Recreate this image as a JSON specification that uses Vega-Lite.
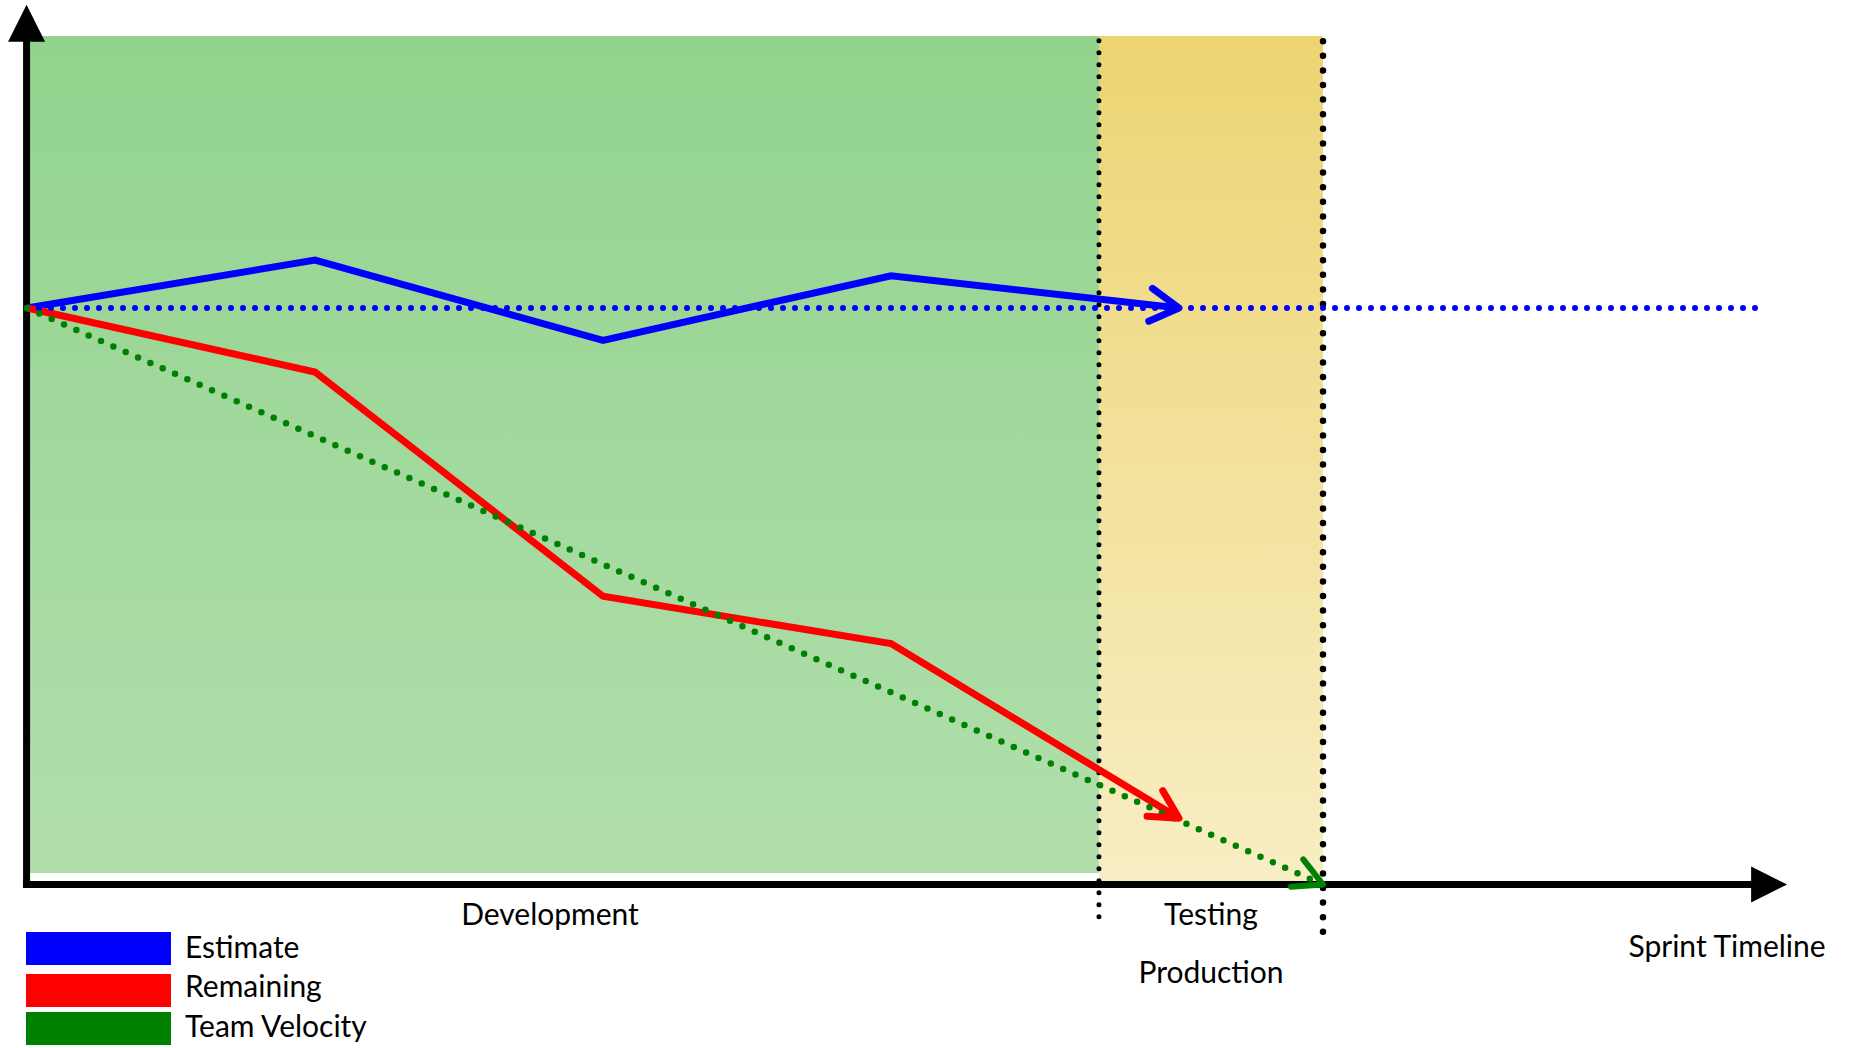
{
  "$schema": "https://vega.github.io/schema/vega-lite/v6.json",
  "width": 1850,
  "height": 1048,
  "autosize": "none",
  "padding": 0,
  "background": "white",
  "config": {"view": {"stroke": null}},
  "datasets": {
    "phases": [
      {"phase": "Development", "start": 0.01, "end": 3.722, "bottom": 1.99, "top": 147.2},
      {"phase": "Testing", "start": 3.722, "end": 4.5, "bottom": 0.4, "top": 147.2}
    ],
    "boundaries": [
      {"boundary": "Testing start", "sprint": 3.722, "low": -5.6, "high": 147.2},
      {"boundary": "Production", "sprint": 4.5, "low": -8.2, "high": 147.2}
    ],
    "burndown": [
      {"series": "Estimate", "sprint": 0, "points": 100},
      {"series": "Estimate", "sprint": 1, "points": 108.3},
      {"series": "Estimate", "sprint": 2, "points": 94.4},
      {"series": "Estimate", "sprint": 3, "points": 105.6},
      {"series": "Estimate", "sprint": 4, "points": 100},
      {"series": "Remaining", "sprint": 0, "points": 100},
      {"series": "Remaining", "sprint": 1, "points": 88.9},
      {"series": "Remaining", "sprint": 2, "points": 50.0},
      {"series": "Remaining", "sprint": 3, "points": 41.8},
      {"series": "Remaining", "sprint": 4, "points": 11.5},
      {"series": "Team Velocity", "sprint": 0, "points": 100},
      {"series": "Team Velocity", "sprint": 4.5, "points": 0}
    ],
    "baseline": [
      {"series": "Estimate", "sprint": 0, "points": 100},
      {"series": "Estimate", "sprint": 6.01, "points": 100}
    ],
    "axes": [
      {"axis": "y", "x0": -0.0015, "x1": -0.0015, "y0": -0.6, "y1": 146.5},
      {"axis": "x", "x0": -0.014, "x1": 6.0, "y0": 0, "y1": 0}
    ],
    "axisHeads": [
      {"axis": "y", "sprint": -0.0015, "points": 149.4},
      {"axis": "x", "sprint": 6.049, "points": 0}
    ],
    "labels": [
      {"text": "Development", "sprint": 1.816, "points": -7.03},
      {"text": "Testing", "sprint": 4.111, "points": -7.03},
      {"text": "Production", "sprint": 4.111, "points": -17.09},
      {"text": "Sprint Timeline", "sprint": 5.903, "points": -12.58}
    ],
    "legend": [
      {"series": "Estimate", "x0": -0.0035, "x1": 0.5, "y0": -8.24, "y1": -13.96, "lx": 0.5486, "ly": -12.7},
      {"series": "Remaining", "x0": -0.0035, "x1": 0.5, "y0": -15.52, "y1": -21.25, "lx": 0.5486, "ly": -19.46},
      {"series": "Team Velocity", "x0": -0.0035, "x1": 0.5, "y0": -22.12, "y1": -27.84, "lx": 0.5486, "ly": -26.4}
    ]
  },
  "layer": [
    {
      "data": {"name": "phases"},
      "transform": [{"filter": "datum.phase === 'Development'"}],
      "mark": {
        "type": "rect",
        "fill": {"gradient": "linear", "x1": 0, "y1": 0, "x2": 0, "y2": 1,
          "stops": [{"offset": 0, "color": "#92d38d"}, {"offset": 1, "color": "#b1dfac"}]}
      },
      "encoding": {
        "x": {"field": "start", "type": "quantitative", "scale": {"domain": [-0.09375, 6.32986], "nice": false, "zero": false}, "axis": null},
        "x2": {"field": "end"},
        "y": {"field": "bottom", "type": "quantitative", "scale": {"domain": [-28.36, 153.43], "nice": false, "zero": false}, "axis": null},
        "y2": {"field": "top"}
      }
    },
    {
      "data": {"name": "phases"},
      "transform": [{"filter": "datum.phase === 'Testing'"}],
      "mark": {
        "type": "rect",
        "fill": {"gradient": "linear", "x1": 0, "y1": 0, "x2": 0, "y2": 1,
          "stops": [{"offset": 0, "color": "#edd472"}, {"offset": 1, "color": "#f8eec4"}]}
      },
      "encoding": {
        "x": {"field": "start", "type": "quantitative"},
        "x2": {"field": "end"},
        "y": {"field": "bottom", "type": "quantitative"},
        "y2": {"field": "top"}
      }
    },
    {
      "data": {"name": "axes"},
      "mark": {"type": "rule", "color": "black", "strokeWidth": 7, "strokeCap": "butt"},
      "encoding": {
        "x": {"field": "x0", "type": "quantitative"},
        "x2": {"field": "x1"},
        "y": {"field": "y0", "type": "quantitative"},
        "y2": {"field": "y1"}
      }
    },
    {
      "data": {"name": "axisHeads"},
      "transform": [{"filter": "datum.axis === 'y'"}],
      "mark": {"type": "point", "shape": "M0,-1L-1,1L1,1Z", "size": 1369, "filled": true, "fill": "black", "strokeWidth": 0, "opacity": 1},
      "encoding": {
        "x": {"field": "sprint", "type": "quantitative"},
        "y": {"field": "points", "type": "quantitative"}
      }
    },
    {
      "data": {"name": "axisHeads"},
      "transform": [{"filter": "datum.axis === 'x'"}],
      "mark": {"type": "point", "shape": "M-1,-1L1,0L-1,1Z", "size": 1296, "filled": true, "fill": "black", "strokeWidth": 0, "opacity": 1},
      "encoding": {
        "x": {"field": "sprint", "type": "quantitative"},
        "y": {"field": "points", "type": "quantitative"}
      }
    },
    {
      "data": {"name": "boundaries"},
      "transform": [{"filter": "datum.boundary === 'Testing start'"}],
      "mark": {"type": "rule", "color": "black", "strokeWidth": 5, "strokeCap": "round", "strokeDash": [0, 12]},
      "encoding": {
        "x": {"field": "sprint", "type": "quantitative"},
        "y": {"field": "low", "type": "quantitative"},
        "y2": {"field": "high"}
      }
    },
    {
      "data": {"name": "boundaries"},
      "transform": [{"filter": "datum.boundary === 'Production'"}],
      "mark": {"type": "rule", "color": "black", "strokeWidth": 6.5, "strokeCap": "round", "strokeDash": [0, 14.6]},
      "encoding": {
        "x": {"field": "sprint", "type": "quantitative"},
        "y": {"field": "low", "type": "quantitative"},
        "y2": {"field": "high"}
      }
    },
    {
      "data": {"name": "burndown"},
      "transform": [{"filter": "datum.series !== 'Team Velocity'"}],
      "mark": {"type": "line", "strokeWidth": 7, "strokeJoin": "miter", "strokeCap": "butt"},
      "encoding": {
        "x": {"field": "sprint", "type": "quantitative"},
        "y": {"field": "points", "type": "quantitative"},
        "color": {"field": "series", "type": "nominal", "scale": {"domain": ["Estimate", "Remaining", "Team Velocity"], "range": ["#0000ff", "#ff0000", "#008000"]}, "legend": null},
        "order": {"field": "sprint"}
      }
    },
    {
      "data": {"name": "baseline"},
      "mark": {"type": "line", "strokeWidth": 6, "strokeCap": "round", "strokeDash": [0, 12]},
      "encoding": {
        "x": {"field": "sprint", "type": "quantitative"},
        "y": {"field": "points", "type": "quantitative"},
        "color": {"field": "series", "type": "nominal"}
      }
    },
    {
      "data": {"name": "burndown"},
      "transform": [{"filter": "datum.series === 'Team Velocity'"}],
      "mark": {"type": "line", "strokeWidth": 6.5, "strokeCap": "round", "strokeDash": [0, 13.5]},
      "encoding": {
        "x": {"field": "sprint", "type": "quantitative"},
        "y": {"field": "points", "type": "quantitative"},
        "color": {"field": "series", "type": "nominal"},
        "order": {"field": "sprint"}
      }
    },
    {
      "data": {"name": "burndown"},
      "transform": [{"filter": "datum.series === 'Estimate' && datum.sprint === 4"}],
      "mark": {"type": "point", "shape": "M-0.866,-0.5L0,0L-0.866,0.5", "size": 4356, "filled": false, "strokeWidth": 7, "strokeCap": "round", "strokeJoin": "round", "angle": 6.4, "opacity": 1},
      "encoding": {
        "x": {"field": "sprint", "type": "quantitative"},
        "y": {"field": "points", "type": "quantitative"},
        "color": {"field": "series", "type": "nominal"}
      }
    },
    {
      "data": {"name": "burndown"},
      "transform": [{"filter": "datum.series === 'Remaining' && datum.sprint === 4"}],
      "mark": {"type": "point", "shape": "M-0.883,-0.469L0,0L-0.883,0.469", "size": 4096, "filled": false, "strokeWidth": 7, "strokeCap": "round", "strokeJoin": "round", "angle": 31.5, "opacity": 1},
      "encoding": {
        "x": {"field": "sprint", "type": "quantitative"},
        "y": {"field": "points", "type": "quantitative"},
        "color": {"field": "series", "type": "nominal"}
      }
    },
    {
      "data": {"name": "burndown"},
      "transform": [{"filter": "datum.series === 'Team Velocity' && datum.sprint === 4.5"}],
      "mark": {"type": "point", "shape": "M-0.883,-0.469L0,0L-0.883,0.469", "size": 4096, "filled": false, "strokeWidth": 6, "strokeCap": "round", "strokeJoin": "round", "angle": 23.9, "opacity": 1},
      "encoding": {
        "x": {"field": "sprint", "type": "quantitative"},
        "y": {"field": "points", "type": "quantitative"},
        "color": {"field": "series", "type": "nominal"}
      }
    },
    {
      "data": {"name": "labels"},
      "mark": {"type": "text", "font": "Lato", "fontSize": 30, "color": "black", "align": "center", "baseline": "alphabetic"},
      "encoding": {
        "x": {"field": "sprint", "type": "quantitative"},
        "y": {"field": "points", "type": "quantitative"},
        "text": {"field": "text"}
      }
    },
    {
      "data": {"name": "legend"},
      "mark": {"type": "rect"},
      "encoding": {
        "x": {"field": "x0", "type": "quantitative"},
        "x2": {"field": "x1"},
        "y": {"field": "y0", "type": "quantitative"},
        "y2": {"field": "y1"},
        "color": {"field": "series", "type": "nominal"}
      }
    },
    {
      "data": {"name": "legend"},
      "mark": {"type": "text", "font": "Lato", "fontSize": 30, "color": "black", "align": "left", "baseline": "alphabetic"},
      "encoding": {
        "x": {"field": "lx", "type": "quantitative"},
        "y": {"field": "ly", "type": "quantitative"},
        "text": {"field": "series"}
      }
    }
  ]
}
